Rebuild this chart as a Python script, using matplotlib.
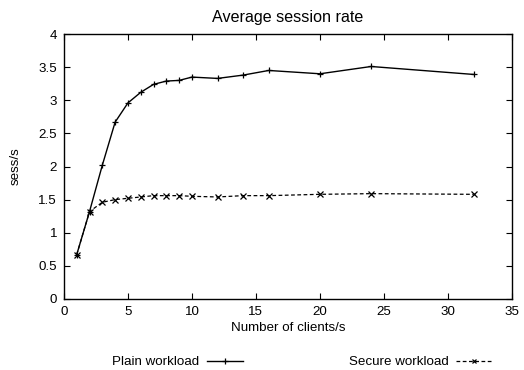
import matplotlib
matplotlib.use("Agg")
import matplotlib.pyplot as plt

plt.rcParams['font.family'] = ['Liberation Sans', 'DejaVu Sans']
plt.rcParams['font.size'] = 9.6

clients = [1, 2, 3, 4, 5, 6, 7, 8, 9, 10, 12, 14, 16, 20, 24, 32]
plain = [0.67, 1.32, 2.02, 2.67, 2.96, 3.12, 3.24, 3.29, 3.30, 3.35, 3.33, 3.38, 3.45, 3.40, 3.51, 3.39]
secure = [0.67, 1.32, 1.46, 1.50, 1.52, 1.54, 1.56, 1.56, 1.56, 1.55, 1.54, 1.56, 1.56, 1.58, 1.59, 1.58]

fig = plt.figure(figsize=(5.24, 3.7), dpi=100)
ax = fig.add_axes([0.122, 0.192, 0.855, 0.716])

ax.plot(clients, plain, color='black', linewidth=1, marker='+', markersize=5,
        markeredgewidth=0.9, label='Plain workload')
ax.plot(clients, secure, color='black', linewidth=0.9, linestyle=(0, (3, 2)),
        marker='x', markersize=4, markeredgewidth=0.9, label='Secure workload')

ax.set_xlim(0, 35)
ax.set_ylim(0, 4)
ax.set_xticks(range(0, 36, 5))
ax.set_yticks([0, 0.5, 1, 1.5, 2, 2.5, 3, 3.5, 4])
ax.set_yticklabels(['0', '0.5', '1', '1.5', '2', '2.5', '3', '3.5', '4'])
ax.tick_params(direction='in', top=True, right=True, length=4, width=0.8, pad=5)
for s in ax.spines.values():
    s.set_linewidth(1)

ax.set_title('Average session rate', fontsize=11.6, pad=9)
ax.set_xlabel('Number of clients/s', labelpad=3)
ax.set_ylabel('sess/s', labelpad=12)

# legend sits under the plot, text before the line sample (gnuplot style)
leg = fig.legend(loc='center left', bbox_to_anchor=(0.191, 1 - 362 / 370), ncol=2, frameon=False,
                 markerfirst=False, handlelength=2.7, handletextpad=0.6, columnspacing=7.9,
                 fontsize=9.6, markerscale=0.8)

fig.savefig('out.png', dpi=100)
